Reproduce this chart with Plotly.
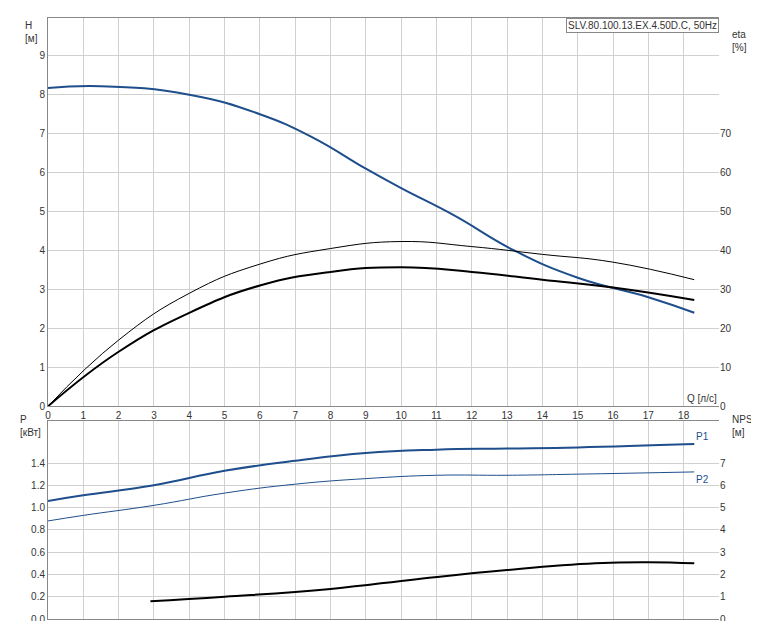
import plotly.graph_objects as go

q_h = [0, 1.5, 4, 6, 7.5, 9, 10, 11.5, 13.2, 15, 17, 18.3]
h = [8.17, 8.22, 8.0, 7.5, 6.9, 6.1, 5.6, 4.9, 4.0, 3.3, 2.8, 2.4]

q_eta = [0, 2, 4, 6, 8, 10, 12, 14, 16, 18.3]
eta_thin = [0, 17, 29, 36.5, 40.5, 42.3, 41, 39, 37, 32.5]
eta_thick = [0, 14, 24, 31, 34.5, 35.7, 34.5, 32.5, 30.5, 27.3]

q_p = [0, 1, 3, 5, 7, 9, 11, 13, 15, 18.3]
p1 = [1.06, 1.11, 1.2, 1.33, 1.42, 1.49, 1.52, 1.53, 1.54, 1.57]
p2 = [0.88, 0.93, 1.02, 1.13, 1.21, 1.26, 1.29, 1.29, 1.30, 1.32]

q_npsh = [2.9, 5, 8, 10.5, 13, 15.5, 17, 18.3]
npsh = [0.8, 1.0, 1.35, 1.8, 2.2, 2.5, 2.55, 2.5]

blue = "#1f4e8c"
grid = "#d0d0d0"
fnt = dict(family="Arial, Liberation Sans", size=10, color="#333")

fig = go.Figure()
ln = lambda c, w: dict(color=c, width=w, shape="spline", smoothing=1.3)
fig.add_trace(go.Scatter(x=q_h, y=h, mode="lines", line=ln(blue, 2), xaxis="x", yaxis="y"))
fig.add_trace(go.Scatter(x=q_eta, y=eta_thin, mode="lines", line=ln("black", 1), xaxis="x", yaxis="y2"))
fig.add_trace(go.Scatter(x=q_eta, y=eta_thick, mode="lines", line=ln("black", 2), xaxis="x", yaxis="y2"))
fig.add_trace(go.Scatter(x=q_p, y=p1, mode="lines", line=ln(blue, 2), xaxis="x2", yaxis="y3"))
fig.add_trace(go.Scatter(x=q_p, y=p2, mode="lines", line=ln(blue, 1), xaxis="x2", yaxis="y3"))
fig.add_trace(go.Scatter(x=q_npsh, y=npsh, mode="lines", line=ln("black", 2), xaxis="x2", yaxis="y4"))

ax = dict(range=[0, 19], dtick=1, showgrid=True, gridcolor=grid, zeroline=False,
          showline=True, linecolor="#888", mirror=True, tickfont=fnt, ticks="")
fig.update_layout(
    width=759, height=621, showlegend=False,
    paper_bgcolor="white", plot_bgcolor="white",
    margin=dict(l=40, r=48, t=10, b=10, autoexpand=False),
    xaxis=dict(ax, domain=[0, 1], anchor="y", tickvals=list(range(19))),
    xaxis2=dict(ax, domain=[0, 1], anchor="y3", showticklabels=False),
    yaxis=dict(range=[0, 9.97], tickvals=list(range(10)), domain=[0.354, 1], showgrid=True,
               gridcolor=grid, zeroline=False, showline=True, linecolor="#888", tickfont=fnt),
    yaxis2=dict(range=[0, 99.7], tickvals=list(range(0, 80, 10)), overlaying="y", side="right",
                anchor="x", showgrid=False, zeroline=False, tickfont=fnt),
    yaxis3=dict(range=[0, 1.78], tickvals=[0, 0.2, 0.4, 0.6, 0.8, 1.0, 1.2, 1.4], tickformat=".1f",
                domain=[0, 0.33], showgrid=True, gridcolor=grid, zeroline=False,
                showline=True, linecolor="#888", tickfont=fnt),
    yaxis4=dict(range=[0, 8.9], tickvals=list(range(8)), overlaying="y3", side="right",
                anchor="x2", showgrid=False, zeroline=False, tickfont=fnt),
)
ann = [
    (-0.037, 1.0, "H<br>[м]"),
    (1.016, 0.985, "eta<br>[%]"),
    (-0.045, 0.345, "P<br>[кВт]"),
    (1.016, 0.345, "NPSH<br>[м]"),
]
for x, y, t in ann:
    fig.add_annotation(x=x, y=y, text=t, xref="paper", yref="paper", showarrow=False,
                       xanchor="left", yanchor="top", font=fnt, align="left")
fig.add_annotation(x=19, y=0, xref="x", yref="y", text="Q [л/с]", showarrow=False,
                   xanchor="right", yanchor="bottom", font=fnt, bgcolor="white")
fig.add_annotation(x=18.3, y=1.57, xref="x2", yref="y3", text="P1", showarrow=False,
                   xanchor="left", yanchor="bottom", font=dict(fnt, color=blue))
fig.add_annotation(x=18.3, y=1.32, xref="x2", yref="y3", text="P2", showarrow=False,
                   xanchor="left", yanchor="top", font=dict(fnt, color=blue))
fig.add_annotation(x=1, y=1, xref="paper", yref="paper", text="SLV.80.100.13.EX.4.50D.C, 50Hz",
                   showarrow=False, xanchor="right", yanchor="top", font=fnt,
                   bordercolor="#888", borderwidth=1, bgcolor="white")
fig.write_html("out.html")
